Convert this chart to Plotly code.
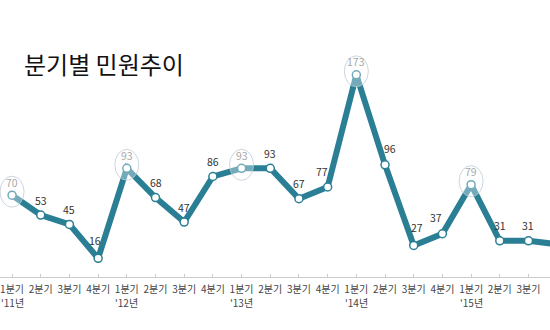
import plotly.graph_objects as go

quarters = ["1분기", "2분기", "3분기", "4분기"] * 5
years = ["'11년", "", "", "", "'12년", "", "", "", "'13년", "", "", "",
         "'14년", "", "", "", "'15년", "", "", ""]
values = [70, 53, 45, 16, 93, 68, 47, 86, 93, 93, 67, 77, 173, 96, 27, 37, 79, 31, 31, 28]
highlight = [True, False, False, False, True, False, False, False, True, False,
             False, False, True, False, False, False, True, False, False, False]

cats = list(range(len(values)))

line_color = "#2a7f95"
x_range = [-0.42, 18.75]

fig = go.Figure()

fig.add_trace(go.Scatter(
    x=cats, y=values, mode="lines+markers",
    line=dict(color=line_color, width=6),
    marker=dict(symbol="circle", size=8, color="white",
                line=dict(color=line_color, width=1.5)),
    showlegend=False))

n = len(values)
for c, v, h in zip(cats, values, highlight):
    if h:
        fig.add_shape(
            type="circle", xref="x", yref="y",
            xsizemode="pixel", ysizemode="pixel",
            xanchor=c, yanchor=v,
            x0=-12, x1=12, y0=-12, y1=19,
            line=dict(color="rgba(185,200,212,0.75)", width=1),
            fillcolor="rgba(255,255,255,0.35)", layer="above")
    if c > x_range[1]:
        continue
    # keep labels clear of the thick line
    xs, ys = 0, (13 if h else 15)
    if 0 < c < n - 1:
        prev, nxt = values[c - 1], values[c + 1]
        if prev > v and nxt > v and (prev - v) + (nxt - v) > 70:
            ys = 18
            xs = -3 if (nxt - v) > (prev - v) else 3
        elif not h and abs(nxt - prev) > 50:
            xs = 5 if prev > nxt else -6
            ys = 16
    fig.add_annotation(
        x=c, y=v, text=str(v), showarrow=False,
        xanchor="center", yanchor="middle", xshift=xs, yshift=ys,
        font=dict(family="Noto Sans CJK KR", size=10.5,
                  color="#a8a8a8" if h else "#333333"))

for c, yr in zip(cats, years):
    if yr:
        fig.add_annotation(
            x=c, y=0, xref="x", yref="paper", text=yr, showarrow=False,
            xanchor="center", yanchor="middle", yshift=-25,
            font=dict(family="Noto Sans CJK KR", size=10, color="#444444"))

fig.add_annotation(
    text="분기별 민원추이", xref="paper", yref="paper",
    x=22 / 550, y=1 - 64 / 277, xanchor="left", yanchor="middle",
    showarrow=False,
    font=dict(family="Noto Sans CJK KR", size=24, color="#111111"))

fig.update_layout(
    width=550, height=330,
    margin=dict(l=0, r=0, t=0, b=53),
    plot_bgcolor="white", paper_bgcolor="white",
    xaxis=dict(
        range=x_range,
        tickmode="array", tickvals=cats, ticktext=quarters,
        tickson="boundaries", ticks="inside", ticklen=3, tickcolor="#cccccc",
        ticklabelstandoff=3,
        showline=True, linecolor="#cccccc", linewidth=1,
        showgrid=False, zeroline=False,
        tickfont=dict(family="Noto Sans CJK KR", size=10, color="#444444"),
    ),
    yaxis=dict(range=[0, 237], visible=False, showgrid=False, zeroline=False),
)

fig.write_html("out.html")
